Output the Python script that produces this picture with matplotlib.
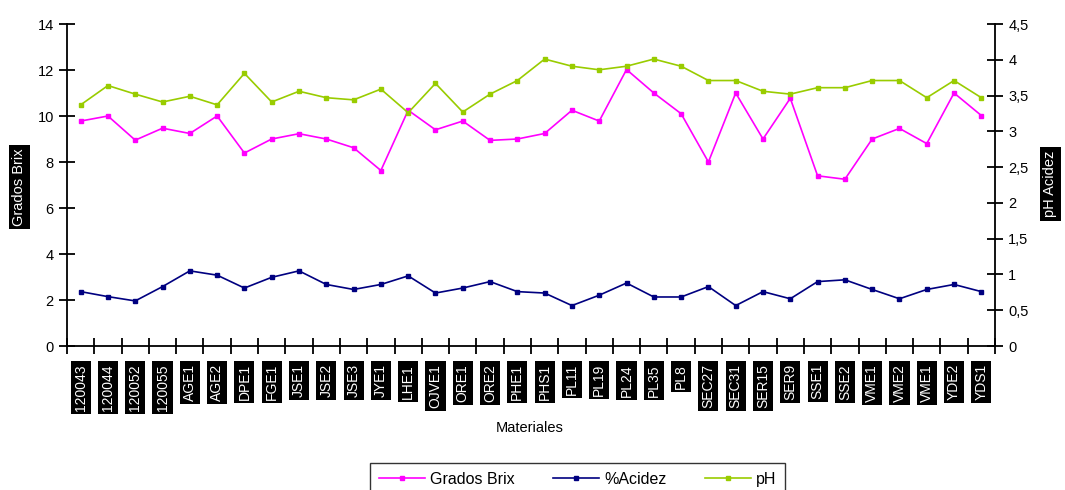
import matplotlib
matplotlib.use("Agg")
import matplotlib.pyplot as plt
from matplotlib.lines import Line2D
import numpy as np

plt.rcParams['font.family'] = ['Liberation Sans', 'DejaVu Sans']

materiales = ["120043", "120044", "120052", "120055", "AGE1", "AGE2", "DPE1", "FGE1",
              "JSE1", "JSE2", "JSE3", "JYE1", "LHE1", "OJVE1", "ORE1", "ORE2", "PHE1",
              "PHS1", "PL11", "PL19", "PL24", "PL35", "PL8", "SEC27", "SEC31", "SER15",
              "SER9", "SSE1", "SSE2", "VME1", "VME2", "VME1", "YDE2", "YDS1"]

grados_brix = [9.78, 10.0, 8.95, 9.47, 9.24, 10.0, 8.39, 9.0, 9.23, 9.0, 8.62, 7.63,
               10.25, 9.4, 9.78, 8.94, 9.0, 9.24, 10.25, 9.78, 12.02, 11.0, 10.1, 8.0,
               11.0, 9.0, 10.77, 7.4, 7.25, 9.0, 9.46, 8.8, 11.0, 10.02]

acidez = [0.76, 0.69, 0.63, 0.83, 1.05, 0.99, 0.81, 0.96, 1.05, 0.86, 0.79, 0.86,
          0.98, 0.74, 0.81, 0.90, 0.76, 0.74, 0.565, 0.71, 0.88, 0.685, 0.685, 0.83,
          0.565, 0.76, 0.66, 0.90, 0.925, 0.79, 0.66, 0.79, 0.86, 0.76]

ph = [3.37, 3.64, 3.52, 3.41, 3.49, 3.37, 3.81, 3.41, 3.56, 3.47, 3.44, 3.59,
      3.26, 3.67, 3.27, 3.52, 3.71, 4.01, 3.91, 3.86, 3.91, 4.01, 3.91, 3.71,
      3.71, 3.56, 3.52, 3.61, 3.61, 3.71, 3.71, 3.47, 3.71, 3.47]

left_ticks = [0, 2, 4, 6, 8, 10, 12, 14]
right_ticks = [0, 0.5, 1, 1.5, 2, 2.5, 3, 3.5, 4, 4.5]
right_labels = ["0", "0,5", "1", "1,5", "2", "2,5", "3", "3,5", "4", "4,5"]

c_brix = "#FF00FF"
c_acid = "#000080"
c_ph = "#99CC00"

W, H = 1065, 490
fig = plt.figure(figsize=(W / 100, H / 100), dpi=100)
ax = fig.add_axes([67 / W, 1 - 346 / H, (995 - 67) / W, (346 - 24) / H])
ax2 = ax.twinx()

x = np.arange(len(materiales))
mk = dict(marker="s", markersize=3.2, linewidth=1.2, clip_on=False)
ax.plot(x, grados_brix, color=c_brix, **mk)
ax2.plot(x, acidez, color=c_acid, **mk)
ax2.plot(x, ph, color=c_ph, **mk)

ax.set_xlim(-0.5, len(materiales) - 0.5)
ax.set_ylim(0, 14)
ax2.set_ylim(0, 4.5)

for a in (ax, ax2):
    a.spines["top"].set_visible(False)
    for s in a.spines.values():
        s.set_linewidth(1.3)
        s.set_color("black")
ax.spines["right"].set_visible(False)
ax2.spines["left"].set_visible(False)
ax2.spines["bottom"].set_visible(False)

ax.set_yticks(left_ticks)
ax.set_yticklabels([str(v) for v in left_ticks], fontsize=10.5)
ax.tick_params(axis="y", direction="inout", length=11, width=1.3, pad=4)
ax2.set_yticks(right_ticks)
ax2.set_yticklabels(right_labels, fontsize=10.5)
ax2.tick_params(axis="y", direction="inout", length=11, width=1.3, pad=4)

# category labels at bin centres, tick marks at bin boundaries
ax.set_xticks(x)
ax.set_xticklabels(materiales, rotation=90, fontsize=10, color="white", va="top")
for lbl in ax.get_xticklabels():
    lbl.set_bbox(dict(facecolor="black", edgecolor="none", pad=2.2))
ax.tick_params(axis="x", which="major", length=0, pad=13)
ax.set_xticks(np.arange(-0.5, len(materiales)), minor=True)
ax.tick_params(axis="x", which="minor", direction="inout", length=11, width=1.3)

fig.text(530 / W, 1 - 428 / H, "Materiales", ha="center", va="center", fontsize=10.5)

box = dict(facecolor="black", edgecolor="none", pad=2.5)
fig.text(19.5 / W, 1 - 187 / H, "Grados Brix", rotation=90, ha="center", va="center",
         color="white", fontsize=10.5, bbox=box)
fig.text(1050 / W, 1 - 184 / H, "pH Acidez", rotation=90, ha="center", va="center",
         color="white", fontsize=10.5, bbox=box)

handles = [Line2D([], [], color=c, marker="s", markersize=3, linewidth=1.2)
           for c in (c_brix, c_acid, c_ph)]
leg = fig.legend(handles, ["Grados Brix", "%Acidez", "pH"], loc="upper center",
                 bbox_to_anchor=(577.5 / W, 1 - 463 / H), ncol=3, fontsize=11.5,
                 frameon=True, fancybox=False, edgecolor="black", handlelength=2.9,
                 columnspacing=2.4, handletextpad=0.3, borderpad=0.55,
                 borderaxespad=0)
leg.get_frame().set_linewidth(1.0)

fig.savefig("out.png", dpi=100, facecolor="white")
